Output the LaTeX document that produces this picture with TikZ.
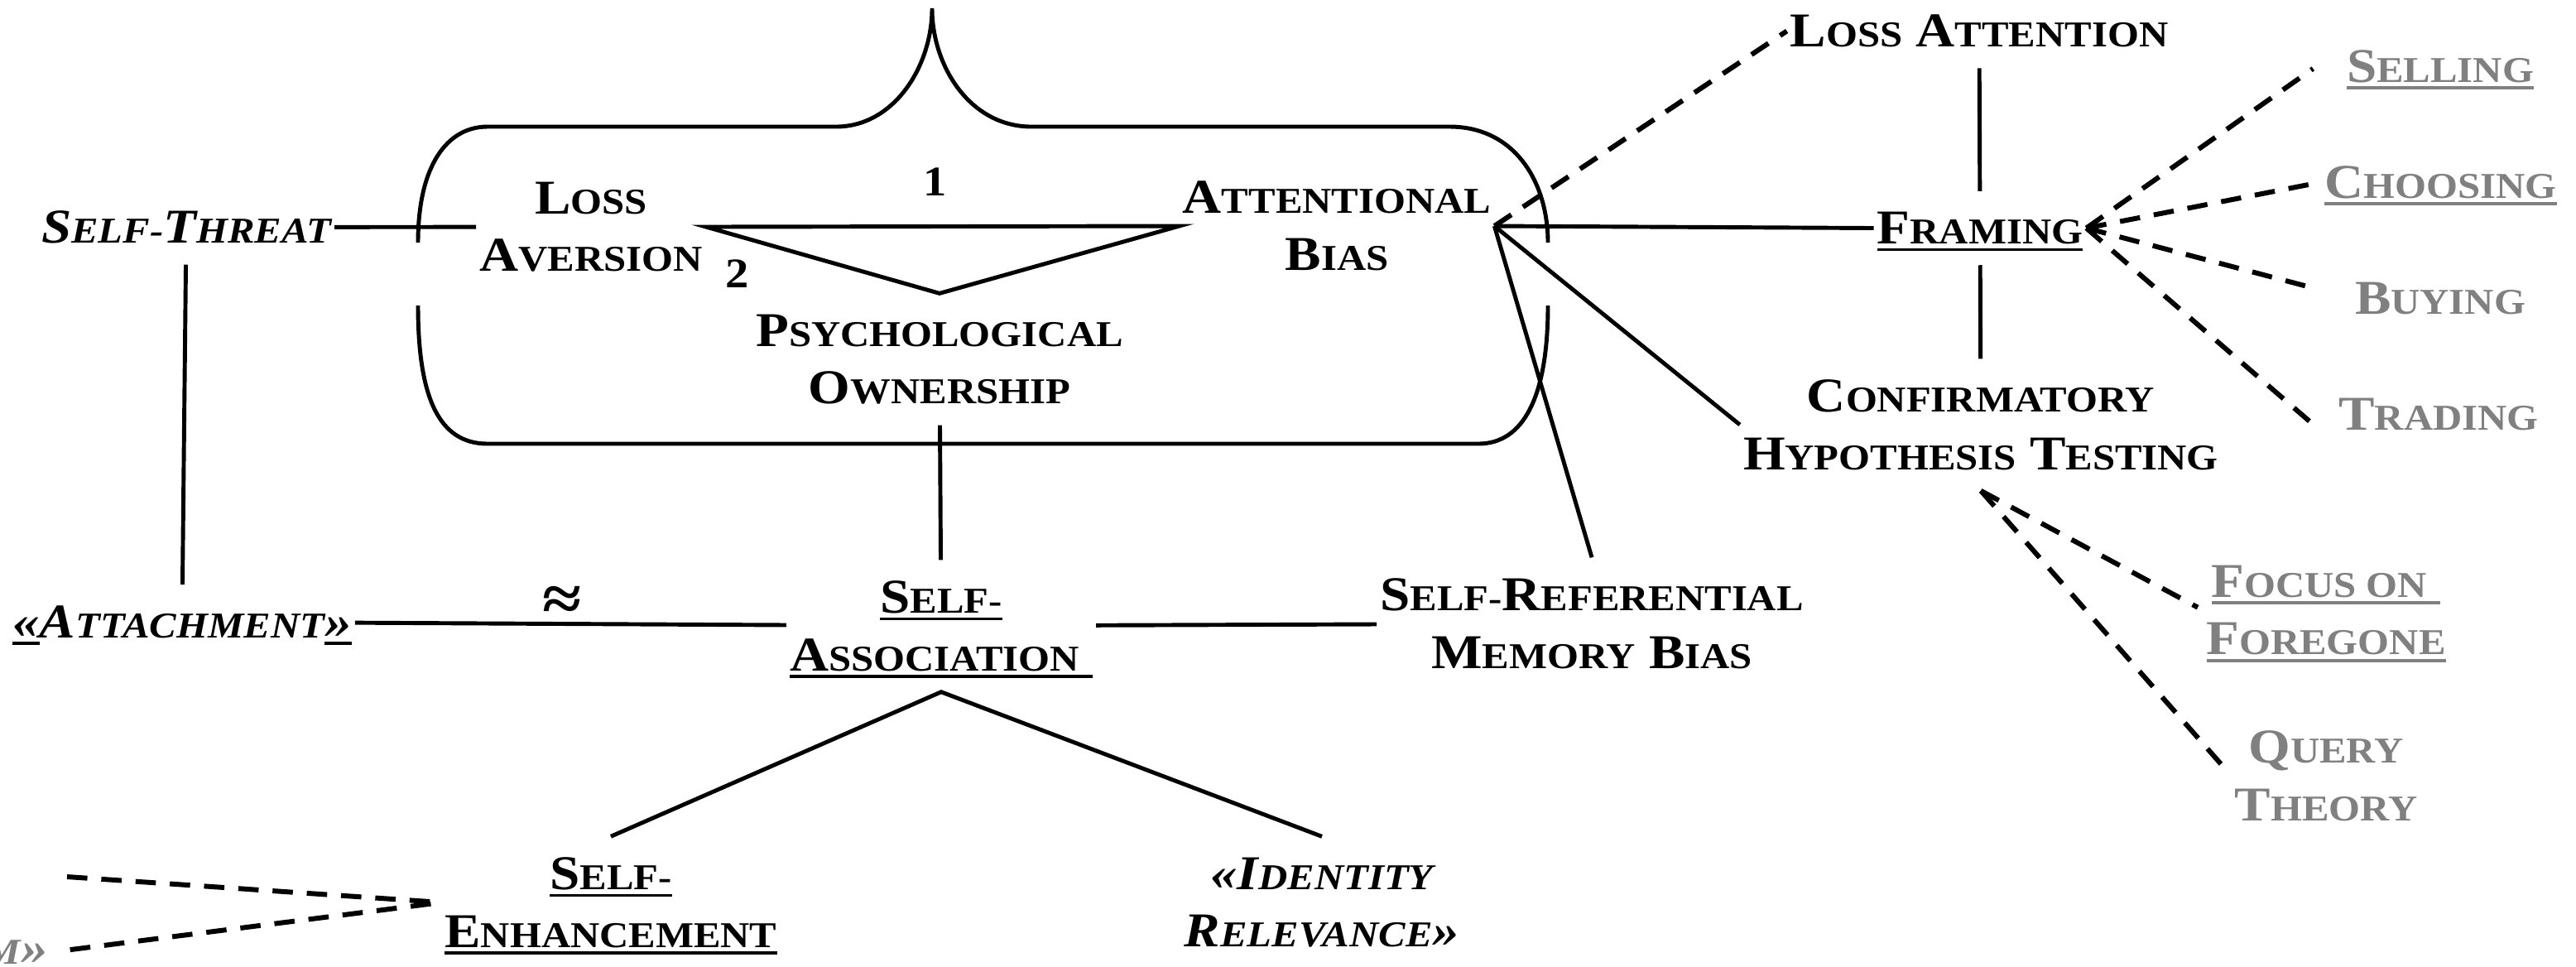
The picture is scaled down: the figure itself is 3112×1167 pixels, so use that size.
\documentclass[tikz,border=0pt]{standalone}
\usepackage{fontspec}
\setmainfont{Liberation Serif}[FakeStretch=1.11]
\usepackage{xcolor}
\definecolor{softgray}{RGB}{128,128,128}

% Schriftgroessen und Kapitaelchen
\newcommand\bigsz{\fontsize{16.7pt}{19.8pt}\selectfont}
\newcommand\lc[1]{{\fontsize{12.5pt}{19.8pt}\selectfont #1}}
\newcommand\ulbox[1]{\setbox0\hbox{#1}\rlap{\smash{\rule[-2.5pt]{\wd0}{1pt}}}\box0}

\begin{document}
\begin{tikzpicture}[x=0.1mm, y=-0.1mm,
    concept/.style={font=\bigsz\bfseries, align=center, inner xsep=1pt, inner ysep=7pt},
    italicnode/.style={concept, font=\bigsz\bfseries\itshape},
    grayitem/.style={concept, text=softgray},
    num/.style={font=\fontsize{14.5pt}{16pt}\selectfont\bfseries, inner sep=0pt},
    link/.style={line width=1.4pt},
    dashline/.style={line width=1.7pt, dash pattern=on 7pt off 4.8pt},
    boxline/.style={line width=1.4pt}]
    \useasboundingbox (0,0) rectangle (3112,1167);
    % Rahmen mit Spitze
    \draw[boxline] (505,293) .. controls (505,200) and (540,153) .. (589,153) -- (1010,153)
        .. controls (1080,153) and (1126,80) .. (1126,10)
        .. controls (1126,80) and (1172,153) .. (1246,153) -- (1751,153)
        .. controls (1830,153) and (1870,220) .. (1870,293);
    \draw[boxline] (505,369) .. controls (505,480) and (530,536) .. (589,536) -- (1786,536)
        .. controls (1840,536) and (1870,480) .. (1870,369);
    % Begriffe
    \node[italicnode] (selfthreat) at (225,274.5) {S\lc{ELF-}T\lc{HREAT}};
    \node[concept] (lossav) at (714,274) {L\lc{OSS}\\A\lc{VERSION}};
    \node[concept] (attbias) at (1615,273) {A\lc{TTENTIONAL}\\B\lc{IAS}};
    \node[concept] (psych) at (1135,434) {P\lc{SYCHOLOGICAL}\\O\lc{WNERSHIP}};
    \node[concept] (selfassoc) at (1137,756) {\ulbox{S\lc{ELF-}}\\\ulbox{A\lc{SSOCIATION}\ }};
    \node[italicnode] (attach) at (220,751) {\ulbox{«}A\lc{TTACHMENT}\ulbox{»}};
    \node[concept] (selfrefmem) at (1923,753) {S\lc{ELF-}R\lc{EFERENTIAL}\\M\lc{EMORY} B\lc{IAS}};
    \node[concept] (selfenh) at (738,1090) {\ulbox{S\lc{ELF-}}\\\ulbox{E\lc{NHANCEMENT}}};
    \node[italicnode] (identity) at (1597,1090) {«I\lc{DENTITY}\\R\lc{ELEVANCE}»};
    \node[concept] (lossatt) at (2391,37.5) {L\lc{OSS} A\lc{TTENTION}};
    \node[concept] (framing) at (2392,275.5) {\ulbox{F\lc{RAMING}}};
    \node[concept] (confirm) at (2393,513) {C\lc{ONFIRMATORY}\\H\lc{YPOTHESIS} T\lc{ESTING}};
    % graue Begriffe
    \node[grayitem] (selling) at (2948,80) {\ulbox{S\lc{ELLING}}};
    \node[grayitem] (choosing) at (2948.5,220) {\ulbox{C\lc{HOOSING}}};
    \node[grayitem] (buying) at (2948,360) {B\lc{UYING}};
    \node[grayitem] (trading) at (2946,500) {T\lc{RADING}};
    \node[grayitem] (focus) at (2810,737) {\ulbox{F\lc{OCUS ON}\ }\\\ulbox{F\lc{OREGONE}}};
    \node[grayitem] (query) at (2810,937) {Q\lc{UERY}\\T\lc{HEORY}};
    \node[grayitem, font=\bigsz\bfseries\itshape, anchor=east] (ism) at (62,1150) {\lc{M}»};
    \coordinate (offleft) at (81,1059);
    % Ziffern
    \node[num] (one) at (1130,220) {1};
    \node[num] (two) at (891,331) {2};
    % Verbindungen
    \draw[link] (lossav.east) -- (attbias.west) -- (psych.north) -- cycle;
    \draw[link] (selfthreat) -- (lossav);
    \draw[link] (selfthreat) -- (attach);
    \draw[link] (psych) -- (selfassoc);
    \draw[link] (attach) -- node[pos=0.48, yshift=7pt, font=\fontsize{22pt}{24pt}\selectfont\bfseries] (approx) {≈} (selfassoc);
    \draw[link] (selfassoc) -- (selfrefmem);
    \draw[link] (selfenh.north) -- (selfassoc.south) -- (identity.north);
    \draw[link] (attbias.east) -- (framing.west);
    \draw[link] (attbias.east) -- (confirm.west);
    \draw[link] (attbias.east) -- (selfrefmem.north);
    \draw[link] (lossatt) -- (framing);
    \draw[link] (framing) -- (confirm);
    % gestrichelte Verbindungen
    \draw[dashline] (attbias.east) -- (lossatt.west);
    \foreach \n/\a/\s in {selling/169/12.7pt, choosing/west/4pt, buying/west/14pt, trading/196/10.9pt}
        \draw[dashline, shorten >=\s] (framing.east) -- (\n.\a);
    \draw[dashline, shorten >=2pt] (confirm.south) -- (focus.west);
    \draw[dashline, shorten >=4pt] (confirm.south) -- (query.west);
    \draw[dashline] (offleft) -- (selfenh.west);
    \draw[dashline, shorten <=6.5pt] (ism.east) -- (selfenh.west);
\end{tikzpicture}
\end{document}
